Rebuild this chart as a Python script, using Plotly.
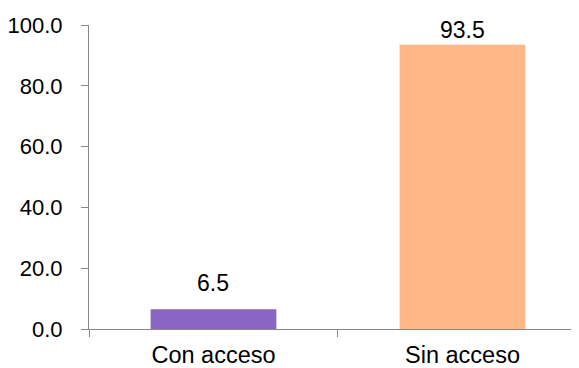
import plotly.graph_objects as go

categories = ["Con acceso", "Sin acceso"]
values = [6.5, 93.5]
labels = ["6.5", "93.5"]
bar_colors = ["#8A65C3", "#FFB788"]
y_ticks = [0, 20, 40, 60, 80, 100]

FONT = "Liberation Sans, Arial, sans-serif"

fig = go.Figure()
fig.add_trace(go.Bar(
    x=categories, y=values, width=0.505,
    marker=dict(color=bar_colors, line=dict(width=0)),
    hoverinfo="skip",
))

for c, v, t in zip(categories, values, labels):
    # labels sit above the bar; the tall one is held under the plot top
    shift = 11 if v < 90 else 0
    fig.add_annotation(x=c, y=v, text=t, showarrow=False, yanchor="bottom",
                       yshift=shift, font=dict(family=FONT, size=23, color="#000"))

# the page body adds an 8px margin, so the figure is 8px smaller
fig.update_layout(
    width=571, height=360,
    margin=dict(l=81, r=0, t=17, b=39),
    paper_bgcolor="white", plot_bgcolor="white",
    showlegend=False,
    font=dict(family=FONT, size=22, color="#000"),
    bargap=0.5,
)
fig.update_xaxes(
    range=[-0.5, 1.468], showline=True, linecolor="#888", linewidth=1,
    ticks="outside", tickson="boundaries", ticklen=7, tickcolor="#888",
    showgrid=False, zeroline=False, ticklabelstandoff=5, automargin=False,
    tickfont=dict(family=FONT, size=23.5, color="#000"),
)
fig.update_yaxes(
    range=[0, 100], tickvals=y_ticks, tickformat=".1f",
    showline=True, linecolor="#888", linewidth=1,
    ticks="outside", ticklen=7, tickcolor="#888",
    showgrid=False, zeroline=False, ticklabelstandoff=14, automargin=False,
    tickfont=dict(family=FONT, size=22, color="#000"),
)

fig.write_html("out.html")
